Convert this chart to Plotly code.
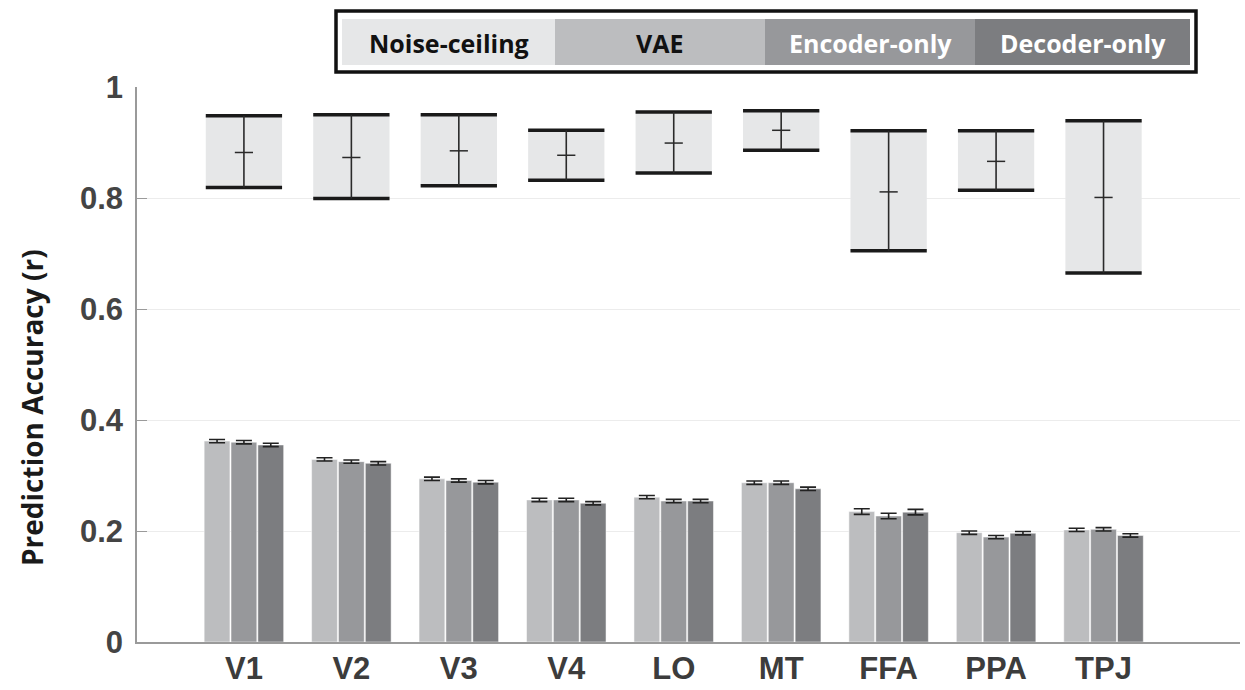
import plotly.graph_objects as go

# Regions of interest
regions = ["V1", "V2", "V3", "V4", "LO", "MT", "FFA", "PPA", "TPJ"]

# Noise ceiling: lower bound, mean, upper bound
nc_low = [0.819, 0.799, 0.822, 0.832, 0.845, 0.886, 0.705, 0.814, 0.665]
nc_mean = [0.882, 0.873, 0.885, 0.877, 0.899, 0.922, 0.811, 0.866, 0.801]
nc_high = [0.948, 0.950, 0.950, 0.922, 0.955, 0.957, 0.921, 0.921, 0.939]

# Model prediction accuracy (mean r) and standard error
vae = [0.362, 0.329, 0.294, 0.256, 0.261, 0.287, 0.235, 0.197, 0.202]
vae_err = [0.003, 0.003, 0.003, 0.003, 0.003, 0.003, 0.005, 0.003, 0.003]
enc = [0.360, 0.325, 0.291, 0.256, 0.254, 0.287, 0.227, 0.189, 0.203]
enc_err = [0.003, 0.003, 0.003, 0.003, 0.003, 0.003, 0.005, 0.003, 0.003]
dec = [0.355, 0.322, 0.288, 0.250, 0.254, 0.276, 0.234, 0.196, 0.192]
dec_err = [0.003, 0.003, 0.003, 0.003, 0.003, 0.003, 0.005, 0.003, 0.003]

series_names = ["Noise-ceiling", "VAE", "Encoder-only", "Decoder-only"]
colors = ["#e6e7e8", "#bcbdbf", "#97989b", "#7c7d80"]

W, H = 1245, 690
ML, MR, MT, MB = 137, 5, 87, 48
PW, PH = W - ML - MR, H - MT - MB


def px(x):
    return (x - ML) / PW


def py(y):
    return (H - MB - y) / PH


fig = go.Figure()

# Noise-ceiling band
fig.add_trace(go.Bar(
    x=regions, y=[h - l for h, l in zip(nc_high, nc_low)], base=nc_low,
    width=0.71, marker=dict(color=colors[0], line=dict(width=0)),
    showlegend=False, hoverinfo="skip",
))

# Model bars
bar_w = 0.25
for k, (vals, errs) in enumerate([(vae, vae_err), (enc, enc_err), (dec, dec_err)]):
    fig.add_trace(go.Bar(
        x=regions, y=vals, name=series_names[k + 1],
        width=bar_w - 0.01, offset=-0.375 + k * bar_w + 0.005,
        marker=dict(color=colors[k + 1], line=dict(color="#ffffff", width=0.5)),
        error_y=dict(type="data", array=errs, color="#222222", thickness=1.6, width=8),
        showlegend=False,
    ))

# Noise-ceiling bounds (thick horizontal lines; line-ew length is 1.4 x size)
fig.add_trace(go.Scatter(
    x=regions + regions, y=nc_high + nc_low, mode="markers",
    marker=dict(symbol="line-ew", size=54.5, line=dict(color="#1a1a1a", width=3.5)),
    showlegend=False, hoverinfo="skip",
))

# Noise-ceiling mean with range whisker
fig.add_trace(go.Scatter(
    x=regions, y=nc_mean, mode="markers",
    marker=dict(symbol="line-ew", size=13, line=dict(color="#2a2a2a", width=1.5)),
    error_y=dict(type="data", symmetric=False,
                 array=[h - m for h, m in zip(nc_high, nc_mean)],
                 arrayminus=[m - l for m, l in zip(nc_mean, nc_low)],
                 color="#2a2a2a", thickness=1.6, width=0),
    showlegend=False, hoverinfo="skip",
))

shapes = []
annotations = []

# Legend box
shapes.append(dict(type="rect", xref="paper", yref="paper",
                   x0=px(336), x1=px(1196), y0=py(72), y1=py(11),
                   line=dict(color="#111111", width=3.5), fillcolor="#ffffff", layer="above"))
edges = [342, 555, 765, 975, 1190]
text_colors = ["#111111", "#111111", "#ffffff", "#ffffff"]
for i in range(4):
    shapes.append(dict(type="rect", xref="paper", yref="paper",
                       x0=px(edges[i]), x1=px(edges[i + 1]), y0=py(65), y1=py(19),
                       line=dict(width=0), fillcolor=colors[i], layer="above"))
    annotations.append(dict(
        x=px((edges[i] + edges[i + 1]) / 2), y=py(43), xref="paper", yref="paper",
        text="<b>%s</b>" % series_names[i], showarrow=False,
        font=dict(family="Open Sans", size=25, color=text_colors[i]),
        xanchor="center", yanchor="middle",
    ))

# Y-axis title
annotations.append(dict(
    x=px(32), y=py(408), xref="paper", yref="paper",
    text="<b>Prediction Accuracy (r)</b>", textangle=-90, showarrow=False,
    font=dict(family="Open Sans", size=28, color="#1a1a1a"),
    xanchor="center", yanchor="middle",
))

fig.update_layout(
    width=W, height=H,
    margin=dict(l=ML, r=MR, t=MT, b=MB),
    barmode="overlay",
    plot_bgcolor="#ffffff", paper_bgcolor="#ffffff",
    shapes=shapes, annotations=annotations,
    showlegend=False,
)
fig.update_xaxes(
    type="category", range=[-0.995, 9.27],
    showgrid=False, showline=True, linecolor="#9a9a9a", linewidth=1.5,
    ticks="", ticklabelstandoff=-2,
    tickfont=dict(family="Liberation Sans", size=31, color="#3c3c3c", weight="bold"),
)
fig.update_yaxes(
    range=[0, 1], tickvals=[0, 0.2, 0.4, 0.6, 0.8, 1], ticktext=["0", "0.2", "0.4", "0.6", "0.8", "1"],
    showgrid=True, gridcolor="#ececec", gridwidth=1,
    showline=True, linecolor="#9a9a9a", linewidth=1.5,
    ticks="inside", ticklen=10, tickcolor="#9a9a9a", tickwidth=1,
    tickfont=dict(family="Liberation Sans", size=31, color="#444444", weight="bold"),
    ticklabelstandoff=6, zeroline=False,
)

fig.write_html("out.html")
